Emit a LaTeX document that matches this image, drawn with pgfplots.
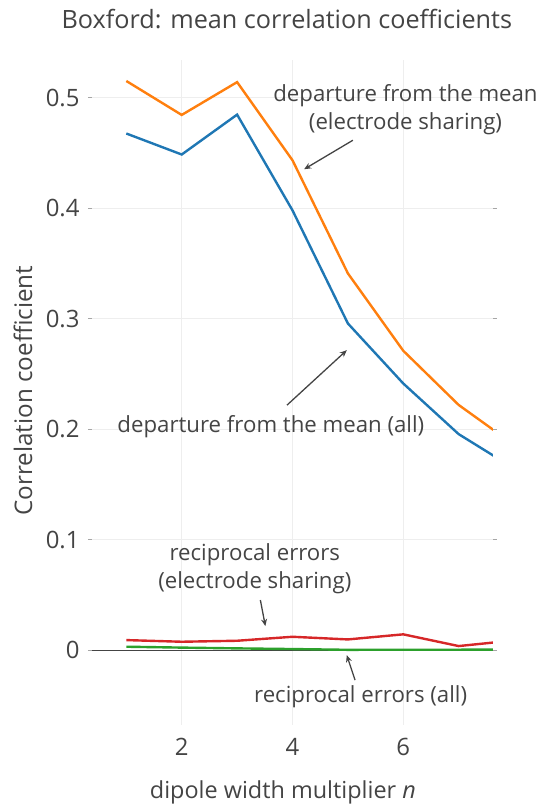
\documentclass[border=0pt]{standalone}
\usepackage{pgfplots}
\pgfplotsset{compat=1.18}
\usepackage{fontspec}
\setmainfont{Open Sans}
\usetikzlibrary{arrows.meta}

\definecolor{txt}{HTML}{444444}
\definecolor{gridc}{HTML}{EEEEEE}
\definecolor{pblue}{HTML}{1F77B4}
\definecolor{porange}{HTML}{FF7F0E}
\definecolor{pgreen}{HTML}{2CA02C}
\definecolor{pred}{HTML}{D62728}

\begin{document}
\begin{tikzpicture}
\begin{axis}[
  scale only axis,
  width=401bp, height=665bp,
  xmin=0.38, xmax=7.62,
  ymin=-0.0675, ymax=0.534,
  axis line style={draw=none},
  clip mode=individual,
  xtick={2,4,6},
  ytick={0,0.1,0.2,0.3,0.4,0.5},
  yticklabels={0,0.1,0.2,0.3,0.4,0.5},
  xmajorgrids, ymajorgrids,
  grid style={gridc, line width=1bp},
  x tick style={draw=none},
  y tick style={draw=gray!70, line width=0.8bp},
  tick align=outside,
  major tick length=4bp,
  xticklabel style={font=\fontsize{24}{28}\selectfont, text=txt},
  yticklabel style={font=\fontsize{24}{28}\selectfont, text=txt},
  x tick label style={yshift=-6bp},
  y tick label style={xshift=-5bp},
  /pgf/number format/assume math mode=true,
  title={Boxford: mean correlation coefficients},
  title style={font=\fontsize{25.3}{30}\selectfont, text=txt,
    at={(axis description cs:0.486,1.0525)}, anchor=center},
  xlabel={dipole width multiplier \textit{n}},
  ylabel={Correlation coefficient},
  every axis x label/.style={at={(axis description cs:0.476,-0.1008)}, anchor=center,
    font=\fontsize{23.5}{28}\selectfont, text=txt},
  every axis y label/.style={at={(axis description cs:-0.172,0.503)}, anchor=center, rotate=90,
    font=\fontsize{24.3}{28}\selectfont, text=txt},
]
% zero line
\draw[txt, line width=1.2bp] (axis cs:0.38,0) -- (axis cs:7.62,0);

% departure from the mean (all)
\addplot[pblue, line width=2.4bp] coordinates {
  (1,0.4675) (2,0.4485) (3,0.4846) (4,0.398) (5,0.2957) (6,0.2414) (7,0.1956) (8,0.1646)};
% departure from the mean (electrode sharing)
\addplot[porange, line width=2.4bp] coordinates {
  (1,0.515) (2,0.4843) (3,0.514) (4,0.4433) (5,0.341) (6,0.271) (7,0.222) (8,0.186)};
% reciprocal errors (all)
\addplot[pgreen, line width=2.4bp] coordinates {
  (1,0.0033) (2,0.0025) (3,0.0018) (4,0.0012) (5,0.0005) (6,0.0006) (7,0.0006) (8,0.0008)};
% reciprocal errors (electrode sharing)
\addplot[pred, line width=2.4bp] coordinates {
  (1,0.0093) (2,0.0078) (3,0.0087) (4,0.0123) (5,0.0099) (6,0.0145) (7,0.0039) (8,0.009)};

% annotations
\tikzset{lab/.style={text=txt, font=\fontsize{22.3}{28}\selectfont, align=center, inner sep=0pt},
         arr/.style={draw=txt, line width=1.3bp, -{Stealth[length=7bp,width=6bp]}}}
\node[lab] at (axis cs:6.04,0.4894) {departure from the mean\\(electrode sharing)};
\draw[arr] (axis cs:5.09,0.4614) -- (axis cs:4.21,0.4352);

\node[lab] at (axis cs:3.61,0.2019) {departure from the mean (all)};
\draw[arr] (axis cs:3.90,0.2218) -- (axis cs:4.98,0.2715);

\node[lab] at (axis cs:3.32,0.0735) {reciprocal errors\\(electrode sharing)};
\draw[arr] (axis cs:3.42,0.0455) -- (axis cs:3.51,0.0220);

\node[lab] at (axis cs:5.23,-0.0422) {reciprocal errors (all)};
\draw[arr] (axis cs:5.13,-0.0269) -- (axis cs:4.98,-0.0043);
\end{axis}
\pgfresetboundingbox
\path[use as bounding box] (-92bp,-82bp) rectangle (448bp,725bp);
\end{tikzpicture}
\end{document}
